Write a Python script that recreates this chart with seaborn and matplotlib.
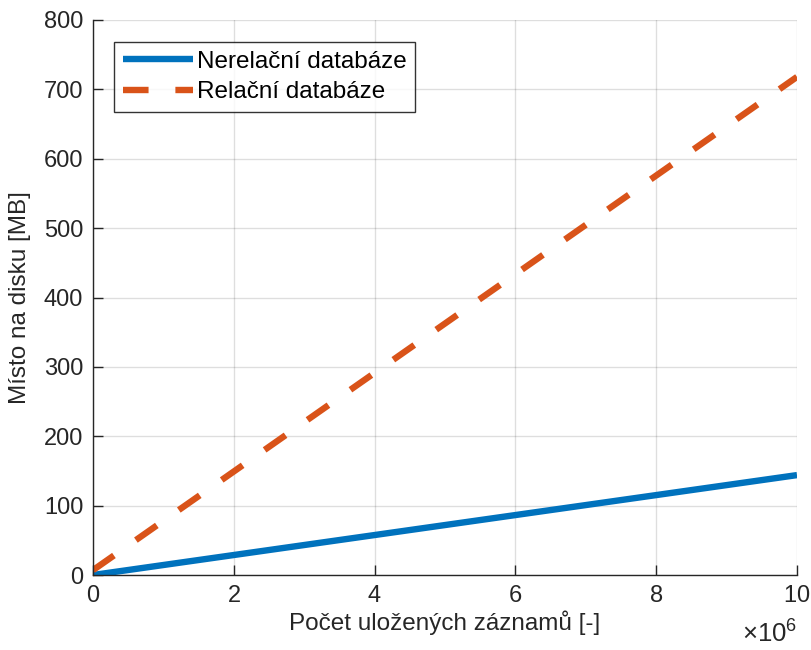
import numpy as np
import pandas as pd
import seaborn as sns
import matplotlib
matplotlib.use("Agg")
import matplotlib.pyplot as plt
from matplotlib.ticker import ScalarFormatter

records = [0, 10_000_000]
nonrel = [0, 144]
rel = [7, 718]
series_names = ["Nerelační databáze", "Relační databáze"]
xlabel = "Počet uložených záznamů [-]"
ylabel = "Místo na disku [MB]"
x_multiplier = r"$\times10^{6}$"

df = pd.DataFrame({
    "x": records + records,
    "y": nonrel + rel,
    "s": [series_names[0]] * len(records) + [series_names[1]] * len(records),
})

sns.set_theme(style="white")
plt.rcParams['font.family'] = ['Liberation Sans', 'DejaVu Sans']
plt.rcParams['mathtext.fontset'] = 'custom'
plt.rcParams['mathtext.rm'] = 'Liberation Sans'
plt.rcParams['mathtext.it'] = 'Liberation Sans'

fig = plt.figure(figsize=(8.12, 6.5), dpi=100)
ax = fig.add_axes([93/812, 1-575/650, (797-93)/812, (575-20)/650])

dark = "#262626"
sns.lineplot(data=df, x="x", y="y", hue="s", style="s",
             palette=["#0072BD", "#D95319"],
             dashes={series_names[0]: "", series_names[1]: (4.0, 4.2)},
             linewidth=4.6, ax=ax, legend=True)
for ln in ax.get_lines():
    ln.set_dash_capstyle("butt")
    ln.set_solid_capstyle("butt")

ax.set_xlim(0, 10_000_000)
ax.set_ylim(0, 800)
ax.set_xticks(np.arange(0, 10_000_001, 2_000_000))
ax.set_yticks(np.arange(0, 801, 100))
fmt = ScalarFormatter(useMathText=True)
fmt.set_powerlimits((6, 6))
ax.xaxis.set_major_formatter(fmt)
ax.xaxis.get_offset_text().set_visible(False)
fig.text(797/812, 7/650, x_multiplier, ha="right", va="baseline",
         fontsize=18.5, color=dark)

ax.grid(True, color="#000000", alpha=0.13, linewidth=1)
ax.tick_params(direction="in", length=7, width=1, colors=dark, labelsize=17, pad=7)
ax.tick_params(axis="both", top=False, right=False, bottom=True, left=True)
for side in ["top", "right"]:
    ax.spines[side].set_visible(False)
for side in ["left", "bottom"]:
    ax.spines[side].set_color(dark)
    ax.spines[side].set_linewidth(1)

ax.set_xlabel(xlabel, fontsize=17.5, color=dark, labelpad=3)
ax.set_ylabel(ylabel, fontsize=17.5, color=dark, labelpad=9)

leg = ax.legend(loc="upper left", bbox_to_anchor=(21/704, 1 - 22/555), fontsize=17.5,
                frameon=True, fancybox=False, edgecolor="#000000",
                handlelength=2.9, handletextpad=0.15, borderpad=0.35,
                labelspacing=0.35, borderaxespad=0, title=None)
leg.get_frame().set_linewidth(1)
for t in leg.get_texts():
    t.set_color("#000000")

fig.savefig("out.png", dpi=100)
